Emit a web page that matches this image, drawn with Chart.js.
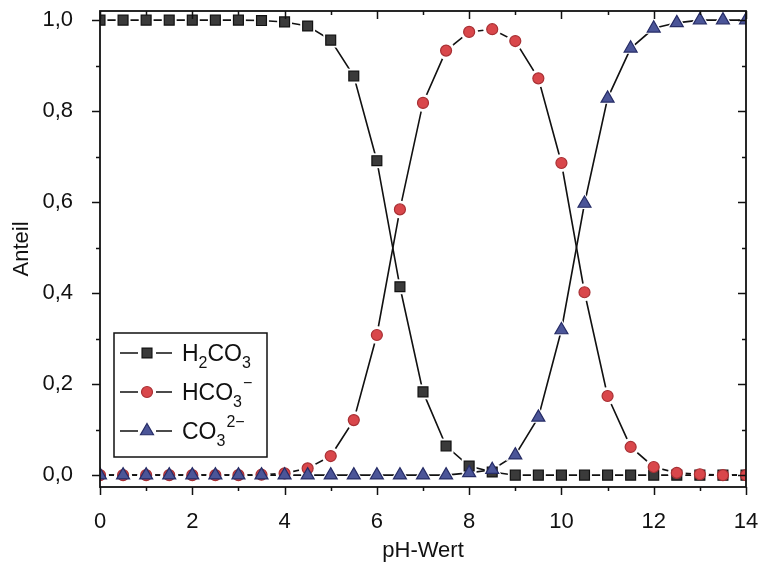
<!DOCTYPE html>
<html>
<head>
<meta charset="utf-8">
<script src="https://cdn.jsdelivr.net/npm/chart.js@4"></script>
<style>
  html, body { margin: 0; padding: 0; background: #fff; }
  #wrap { width: 764px; height: 567px; }
</style>
</head>
<body>
<div id="wrap"><canvas id="speciesChart" width="764" height="567"></canvas></div>
<script>
// pH values (every 0.5)
var phValues = [0, 0.5, 1, 1.5, 2, 2.5, 3, 3.5, 4, 4.5, 5, 5.5, 6, 6.5, 7, 7.5, 8, 8.5, 9, 9.5, 10, 10.5, 11, 11.5, 12, 12.5, 13, 13.5, 14];

// fractions
var h2co3 = [1.0, 1.0, 1.0, 1.0, 1.0, 1.0, 1.0, 0.999, 0.996, 0.987, 0.956, 0.877, 0.691, 0.414, 0.183, 0.064, 0.02, 0.007, 0.0, 0.0, 0.0, 0.0, 0.0, 0.0, 0.0, 0.0, 0.0, 0.0, 0.0];
var hco3 = [0.0, 0.0, 0.0, 0.0, 0.0, 0.0, 0.0, 0.001, 0.004, 0.015, 0.042, 0.121, 0.308, 0.584, 0.818, 0.933, 0.974, 0.98, 0.954, 0.872, 0.686, 0.402, 0.174, 0.062, 0.018, 0.005, 0.002, 0.0, 0.0];
var co3 = [0.0, 0.0, 0.0, 0.0, 0.0, 0.0, 0.0, 0.0, 0.0, 0.0, 0.0, 0.0, 0.0, 0.0, 0.0, 0.0, 0.005, 0.012, 0.044, 0.127, 0.319, 0.597, 0.828, 0.938, 0.982, 0.994, 1.0, 1.0, 1.0];

var xTicks = [0, 2, 4, 6, 8, 10, 12, 14];
var yTicks = [0, 0.2, 0.4, 0.6, 0.8, 1.0];

var seriesNames = [['H', '2', 'CO', '3', ''], ['HCO', '3', '', '', '\u2212'], ['CO', '3', '', '', '2\u2212']];

var markerStyles = [
    { style: 'rect', radius: 7, fill: '#3a3a3a', border: '#111111' },
    { style: 'circle', radius: 5.5, fill: '#d9474b', border: '#a83034' },
    { style: 'triangle', radius: 7.5, fill: '#4b5598', border: '#262c66' }
];
var seriesData = [h2co3, hco3, co3];

var FONT = '"Liberation Sans", Arial, Helvetica, sans-serif';

function toPoints(values) {
    return phValues.map((x, i) => ({ x: x, y: values[i] }));
}

var datasets = [];
// connecting lines (drawn first)
seriesData.forEach((values, index) => {
    datasets.push({
        data: toPoints(values),
        borderColor: '#111',
        borderWidth: 1.6,
        pointRadius: 0,
        fill: false,
        tension: 0,
        order: 10
    });
});
// white gaps around markers
seriesData.forEach((values, index) => {
    datasets.push({
        data: toPoints(values),
        showLine: false,
        pointStyle: markerStyles[index].style,
        pointRadius: markerStyles[index].radius + 3.5,
        pointBackgroundColor: '#fff',
        pointBorderColor: '#fff',
        pointBorderWidth: 0,
        order: 5
    });
});
// markers: squares under circles under triangles
seriesData.forEach((values, index) => {
    datasets.push({
        data: toPoints(values),
        showLine: false,
        pointStyle: markerStyles[index].style,
        pointRadius: markerStyles[index].radius,
        pointBackgroundColor: markerStyles[index].fill,
        pointBorderColor: markerStyles[index].border,
        pointBorderWidth: 1.2,
        order: 3 - index
    });
});

function drawMarker(ctx, m, x, y) {
    ctx.save();
    ctx.fillStyle = m.fill;
    ctx.strokeStyle = m.border;
    ctx.lineWidth = 1.2;
    Chart.helpers.drawPoint(ctx, { pointStyle: m.style, radius: m.radius, rotation: 0, borderWidth: 1.2 }, x, y);
    ctx.restore();
}

// frame, ticks and legend
var framePlugin = {
    id: 'framePlugin',
    afterDraw: function (chart) {
        var ctx = chart.ctx;
        var a = chart.chartArea;
        var xs = chart.scales.x, ys = chart.scales.y;
        ctx.save();
        ctx.strokeStyle = '#111';
        ctx.lineWidth = 1.8;
        ctx.strokeRect(a.left, a.top, a.right - a.left, a.bottom - a.top);

        ctx.lineWidth = 1.5;
        ctx.beginPath();
        for (var v = 0; v <= 14; v++) {
            var px = Math.round(xs.getPixelForValue(v)) + 0.5;
            var len = (v % 2 === 0) ? 8 : 4;
            ctx.moveTo(px, a.bottom); ctx.lineTo(px, a.bottom + len);
            ctx.moveTo(px, a.top); ctx.lineTo(px, a.top + len);
        }
        for (var k = 0; k <= 10; k++) {
            var py = Math.round(ys.getPixelForValue(k / 10)) + 0.5;
            var l2 = (k % 2 === 0) ? 8 : 4;
            ctx.moveTo(a.left, py); ctx.lineTo(a.left - l2, py);
            ctx.moveTo(a.right, py); ctx.lineTo(a.right - l2, py);
        }
        ctx.stroke();

        // legend box
        var bx = a.left + 14, by = a.bottom - 154, bw = 153, bh = 124;
        ctx.fillStyle = '#fff';
        ctx.fillRect(bx, by, bw, bh);
        ctx.lineWidth = 1.5;
        ctx.strokeRect(bx, by, bw, bh);

        for (var i = 0; i < 3; i++) {
            var cy = by + 20 + i * 39;
            ctx.strokeStyle = '#111';
            ctx.lineWidth = 1.6;
            ctx.beginPath();
            ctx.moveTo(bx + 6, cy); ctx.lineTo(bx + 24, cy);
            ctx.moveTo(bx + 42, cy); ctx.lineTo(bx + 58, cy);
            ctx.stroke();
            drawMarker(ctx, markerStyles[i], bx + 33, cy);

            var parts = seriesNames[i];
            var tx = bx + 68;
            ctx.fillStyle = '#111';
            ctx.textBaseline = 'alphabetic';
            ctx.textAlign = 'left';
            var base = cy + 8;
            ctx.font = '23px ' + FONT;
            ctx.fillText(parts[0], tx, base);
            var w0 = ctx.measureText(parts[0]).width;
            ctx.font = '16px ' + FONT;
            ctx.fillText(parts[1], tx + w0, base + 7);
            var w1 = ctx.measureText(parts[1]).width;
            var supX = tx + w0;
            ctx.font = '23px ' + FONT;
            ctx.fillText(parts[2], tx + w0 + w1, base);
            var w2 = ctx.measureText(parts[2]).width;
            if (parts[3]) {
                ctx.font = '16px ' + FONT;
                ctx.fillText(parts[3], tx + w0 + w1 + w2, base + 7);
            }
            if (parts[4]) {
                ctx.font = '16px ' + FONT;
                ctx.fillText(parts[4], supX + w1 + 1, base - 12);
            }
        }
        ctx.restore();
    }
};

var ctx = document.getElementById('speciesChart').getContext('2d');
var speciesChart = new Chart(ctx, {
    type: 'line',
    data: { datasets: datasets },
    options: {
        responsive: false,
        animation: false,
        layout: { padding: { top: 11, right: 18, left: 0, bottom: 0 } },
        plugins: {
            legend: { display: false },
            tooltip: { enabled: false }
        },
        scales: {
            x: {
                type: 'linear',
                min: 0,
                max: 14,
                grid: { display: false },
                border: { display: false },
                afterBuildTicks: function (scale) {
                    scale.ticks = xTicks.map(v => ({ value: v }));
                },
                afterFit: function (scale) {
                    scale.height = 80;
                    scale.paddingLeft = 0;
                    scale.paddingRight = 0;
                },
                ticks: {
                    padding: 14,
                    color: '#111',
                    font: { family: FONT, size: 22 },
                    maxRotation: 0,
                    autoSkip: false,
                    callback: function (v) { return String(v); }
                },
                title: {
                    display: true,
                    text: 'pH-Wert',
                    color: '#111',
                    font: { family: FONT, size: 22 },
                    padding: { top: 0, bottom: 3 }
                }
            },
            y: {
                type: 'linear',
                min: -0.026,
                max: 1.02,
                grid: { display: false },
                border: { display: false },
                afterBuildTicks: function (scale) {
                    scale.ticks = yTicks.map(v => ({ value: v }));
                },
                afterFit: function (scale) {
                    scale.width = 100;
                    scale.paddingTop = 0;
                    scale.paddingBottom = 0;
                },
                ticks: {
                    padding: 19,
                    color: '#111',
                    font: { family: FONT, size: 22 },
                    callback: function (v) { return v.toFixed(1).replace('.', ','); }
                },
                title: {
                    display: true,
                    text: 'Anteil',
                    color: '#111',
                    font: { family: FONT, size: 22 },
                    padding: { top: 9, bottom: 0 }
                }
            }
        }
    },
    plugins: [framePlugin]
});
</script>
</body>
</html>
